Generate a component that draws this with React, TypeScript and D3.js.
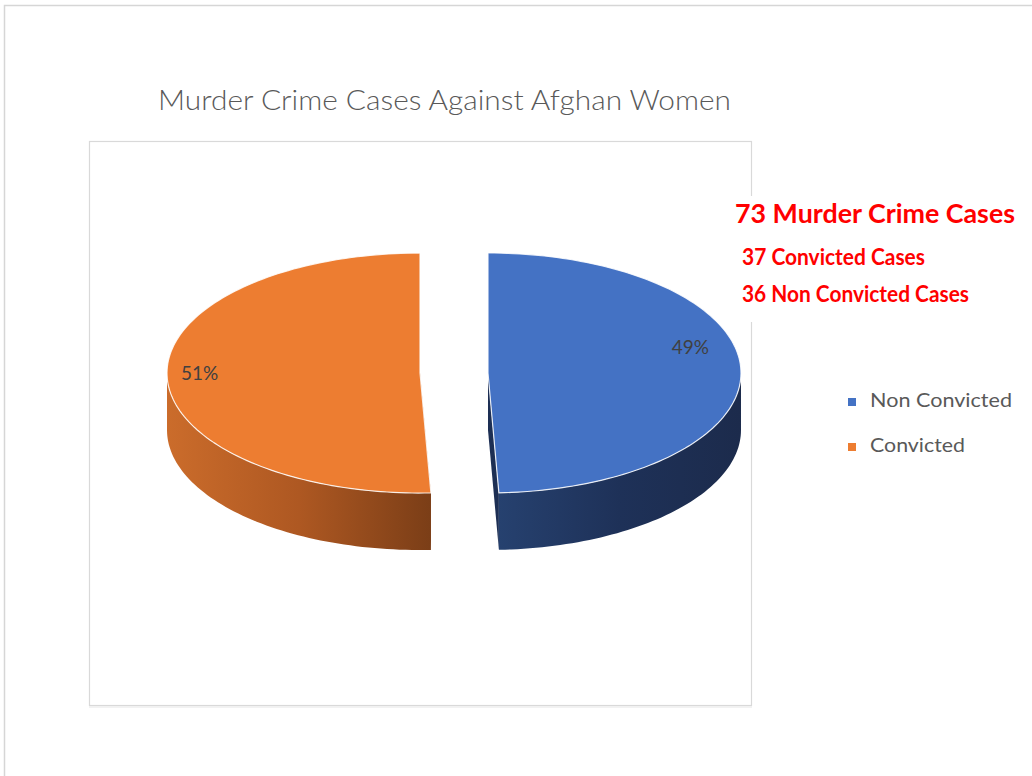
import React from 'react';
import * as d3 from 'd3';

// chart data
const categories = ['Non Convicted', 'Convicted'];
const cases = [36, 37];
const title = 'Murder Crime Cases Against Afghan Women';

const width = 1032;
const height = 776;

// 3d pie geometry
const pieCx = 454;
const pieCy = 373;
const rx = 253;
const ry = 120;
const depth = 57;
const explode = 34;

const topColors = ['#4472C4', '#ED7D31'];
const cutColors = ['#1D2F54', '#8A4519'];
const sideStops = [
  ['#26416F', '#1E3158', '#1C2B4C'],
  ['#CB6C2B', '#AE5822', '#7B3E17'],
];
// small nudges for the percentage labels (Excel places them by hand-ish)
const labelShift = [[0, -24], [-18, -2]];

const font = 'Lato, "Open Sans", sans-serif';

function App() {
  const total = d3.sum(cases);
  const pct = d3.format('.0%');
  const arcs = d3.pie<number>().sort(null)(cases);
  const line = d3.line();

  const pt = (c: number[], a: number, k = 1, dy = 0): [number, number] =>
    [c[0] + k * rx * Math.sin(a), c[1] - k * ry * Math.cos(a) + dy];

  const sample = (a0: number, a1: number) => {
    const n = Math.max(2, Math.ceil(Math.abs(a1 - a0) * 40));
    return d3.range(n + 1).map(i => a0 + (a1 - a0) * i / n);
  };

  const slices = arcs.map((d, i) => {
    const mid = (d.startAngle + d.endAngle) / 2;
    const c = [pieCx + explode * Math.sin(mid), pieCy - explode * Math.cos(mid) * 0.05];
    const topPts: [number, number][] = [c as [number, number], ...sample(d.startAngle, d.endAngle).map(a => pt(c, a))];
    const top = line(topPts) + 'Z';

    // front wall: the part of the rim facing the viewer
    const s = Math.max(d.startAngle, Math.PI / 2);
    const e = Math.min(d.endAngle, Math.PI * 1.5);
    let side = '';
    let sx0 = 0, sx1 = 0;
    if (e > s) {
      const upper = sample(s, e).map(a => pt(c, a));
      const lower = sample(s, e).reverse().map(a => pt(c, a, 1, depth));
      side = line([...upper, ...lower]) + 'Z';
      const xs = upper.map(p => p[0]);
      sx0 = d3.min(xs) as number;
      sx1 = d3.max(xs) as number;
    }

    // radial cut faces
    const cuts = [d.startAngle, d.endAngle].map(a => {
      const p = pt(c, a);
      return line([
        [c[0], c[1]], p, [p[0], p[1] + depth], [c[0], c[1] + depth],
      ]) + 'Z';
    });

    const lp = pt(c, mid, 0.8);
    return { d, i, c, top, side, sx0, sx1, cuts, lx: lp[0] + labelShift[i][0], ly: lp[1] + labelShift[i][1] };
  });

  const notes = [
    { text: `${total} Murder Crime Cases`, x: 735, y: 223, size: 27, len: 280 },
    { text: `${cases[1]} Convicted Cases`, x: 742, y: 265, size: 23, len: 183 },
    { text: `${cases[0]} Non Convicted Cases`, x: 742, y: 302, size: 23, len: 227 },
  ];
  const legendLen = [142, 95];

  return (
    <div style={{ position: 'absolute', left: 0, top: 0 }}>
      <svg width={width} height={height} style={{ display: 'block', background: '#fff' }}>
        <defs>
          {slices.map(s => (
            <linearGradient key={s.i} id={`side${s.i}`} gradientUnits="userSpaceOnUse"
              x1={s.sx0} y1={0} x2={s.sx1} y2={0}>
              <stop offset="0" stopColor={sideStops[s.i][0]} />
              <stop offset="0.5" stopColor={sideStops[s.i][1]} />
              <stop offset="1" stopColor={sideStops[s.i][2]} />
            </linearGradient>
          ))}
        </defs>

        <rect x={4.5} y={5.5} width={1200} height={1000} fill="none" stroke="#d6d6d6" strokeWidth={1.5} />
        <rect x={89.5} y={141.5} width={662} height={564} fill="none" stroke="#d9d9d9" strokeWidth={1.2} />
        <line x1={89} x2={752} y1={707} y2={707} stroke="#e6e6e6" strokeWidth={1} />

        <text x={158} y={110} fontFamily={font} fontWeight={300} fontSize={27} fill="#595959"
          textLength={573} lengthAdjust="spacingAndGlyphs">{title}</text>

        {slices.map(s => (
          <g key={s.i}>
            {s.cuts.map((p, j) => <path key={j} d={p} fill={cutColors[s.i]} />)}
            {s.side && <path d={s.side} fill={`url(#side${s.i})`} />}
            <path d={s.top} fill={topColors[s.i]} stroke="#fff" strokeOpacity={0.85} strokeWidth={1.2} strokeLinejoin="round" />
          </g>
        ))}

        {slices.map(s => (
          <text key={s.i} x={s.lx} y={s.ly} dy="0.35em" textAnchor="middle" fontFamily={font}
            fontSize={19} fill="#404040">{pct(s.d.value / total)}</text>
        ))}

        <rect x={725} y={196} width={320} height={126} fill="#fff" />
        {notes.map((n, i) => (
          <text key={i} x={n.x} y={n.y} fontFamily={font} fontWeight="bold" fontSize={n.size}
            fill="#FF0000" textLength={n.len} lengthAdjust="spacingAndGlyphs">{n.text}</text>
        ))}

        {categories.map((c, i) => (
          <g key={c} transform={`translate(848, ${398 + i * 45})`}>
            <rect width={8} height={8} fill={topColors[i]} />
            <text x={22} y={9} fontFamily={font} fontSize={19} fill="#595959"
              textLength={legendLen[i]} lengthAdjust="spacingAndGlyphs">{c}</text>
          </g>
        ))}
      </svg>
    </div>
  );
}

export default App;
